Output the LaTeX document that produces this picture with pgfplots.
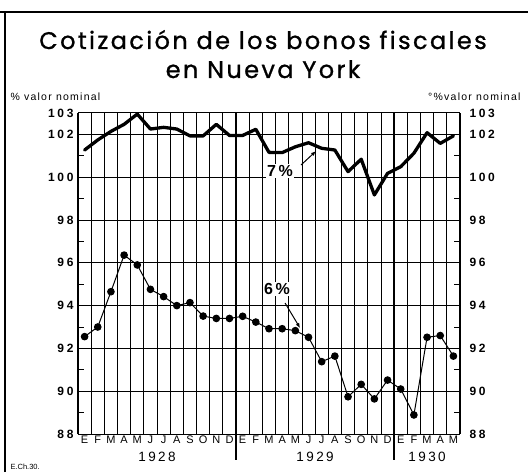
\documentclass[border=0pt]{standalone}
\usepackage{pgfplots}
\pgfplotsset{compat=1.18}
\usetikzlibrary{arrows.meta}
\usepackage{fontspec}
\setmainfont{Poppins}
\newfontfamily\titlef[LetterSpace=10,FakeBold=1]{Poppins}
\newfontfamily\lab[LetterSpace=12]{Liberation Sans}
\newfontfamily\tickf[LetterSpace=22]{Liberation Sans}
\newfontfamily\yearf[LetterSpace=18]{Liberation Sans}
\newfontfamily\plain{Liberation Sans}

\pgfplotstableread{
i v
0 101.27
1 101.74
2 102.14
3 102.47
4 102.95
5 102.25
6 102.33
7 102.25
8 101.93
9 101.93
10 102.47
11 101.95
12 101.95
13 102.24
14 101.16
15 101.15
16 101.42
17 101.61
18 101.35
19 101.27
20 100.26
21 100.84
22 99.17
23 100.18
24 100.49
25 101.12
26 102.08
27 101.58
28 101.93
}\sieteTable

\pgfplotstableread{
i v
0 92.55
1 93.00
2 94.65
3 96.36
4 95.90
5 94.76
6 94.42
7 94.00
8 94.14
9 93.51
10 93.40
11 93.40
12 93.50
13 93.23
14 92.92
15 92.92
16 92.83
17 92.52
18 91.38
19 91.64
20 89.74
21 90.32
22 89.64
23 90.52
24 90.10
25 88.89
26 92.52
27 92.60
28 91.64
}\seisTable

\pgfplotsset{
  base/.style={
    at={(78pt,38pt)}, anchor=south west,
    width=382pt, height=321pt, scale only axis,
    xmin=-0.5, xmax=28.5, ymin=88, ymax=103,
  },
  yside/.style={
    base,
    axis x line=none,
    ytick={88,90,92,94,96,98,100,102,103},
    minor ytick={89,91,93,95,97,99,101},
    tick align=inside,
    major tick length=0pt,
    minor tick length=6pt,
    tick style={black, line width=0.9pt},
    /pgf/number format/assume math mode=true,
    yticklabel style={font=\tickf\bfseries\fontsize{12}{12}\selectfont},
    axis line style={line width=1.2pt},
  },
}

\begin{document}
\begin{tikzpicture}
\path[use as bounding box] (0pt,0pt) rectangle (528pt,472pt);
\draw[line width=2pt] (0pt,460pt) -- (528pt,460pt);
\draw[line width=2.5pt] (5pt,0pt) -- (5pt,460pt);

\node[anchor=base, font=\titlef\fontsize{24}{24}\selectfont] at (263pt,423pt) {Cotización de los bonos fiscales};
\node[anchor=base, font=\titlef\fontsize{24}{24}\selectfont] at (263pt,394pt) {en Nueva York};
\node[anchor=base west, font=\lab\fontsize{10.5}{10.5}\selectfont] at (7pt,371pt) {\%~valor nominal};
\node[anchor=base east, font=\lab\fontsize{10.5}{10.5}\selectfont] at (524pt,371pt) {°\%valor nominal};
\node[anchor=base west, font=\plain\fontsize{7.5}{7.5}\selectfont] at (7pt,3pt) {E.Ch.30.};

\begin{axis}[
  base,
  clip=false,
  axis line style={line width=1pt},
  xtick={0,...,28},
  xticklabels={E,F,M,A,M,J,J,A,S,O,N,D,E,F,M,A,M,J,J,A,S,O,N,D,E,F,M,A,M},
  xticklabel style={font=\plain\fontsize{11}{11}\selectfont, yshift=2pt},
  ytick={88,90,92,94,96,98,100,102},
  yticklabels={},
  ymajorgrids,
  extra x ticks={0.5,1.5,...,27.5},
  extra x tick labels={},
  extra x tick style={grid=major},
  tick style={draw=none},
  major grid style={black, line width=0.8pt},
]
\addplot[black, line width=1pt, mark=*, mark size=3.3pt, mark options={solid}] table[x=i,y=v] {\seisTable};
\addplot[black, line width=3.3pt, line join=round, line cap=round] table[x=i,y=v] {\sieteTable};

\draw[line width=1.8pt] (axis cs:11.5,103) -- ([yshift=-26pt]axis cs:11.5,88);
\draw[line width=1.8pt] (axis cs:23.5,103) -- ([yshift=-26pt]axis cs:23.5,88);

\node[font=\yearf\fontsize{13.5}{13.5}\selectfont] at ([yshift=-23pt]axis cs:5.5,88) {1928};
\node[font=\yearf\fontsize{13.5}{13.5}\selectfont] at ([yshift=-23pt]axis cs:17.5,88) {1929};
\node[font=\yearf\fontsize{13.5}{13.5}\selectfont] at ([yshift=-23pt]axis cs:26,88) {1930};

\node[fill=white, inner sep=1pt, font=\plain\bfseries\fontsize{16}{16}\selectfont] at (axis cs:14.84,100.29) {7\,\%};
\draw[line width=1pt, -{Latex[length=5pt,width=4pt]}] (axis cs:16.43,100.57) -- (axis cs:17.57,101.22);
\node[fill=white, inner sep=1pt, font=\plain\bfseries\fontsize{16}{16}\selectfont] at (axis cs:14.6,94.78) {6\,\%};
\draw[line width=1pt, -{Latex[length=5pt,width=4pt]}] (axis cs:15.22,94.12) -- (axis cs:16.36,92.95);
\end{axis}

\begin{axis}[yside, axis y line*=left, yticklabel pos=left, yticklabel style={xshift=-1pt}]
\end{axis}
\begin{axis}[yside, axis y line*=right, yticklabel pos=right, yticklabel style={xshift=6pt}]
\end{axis}
\end{tikzpicture}
\end{document}
